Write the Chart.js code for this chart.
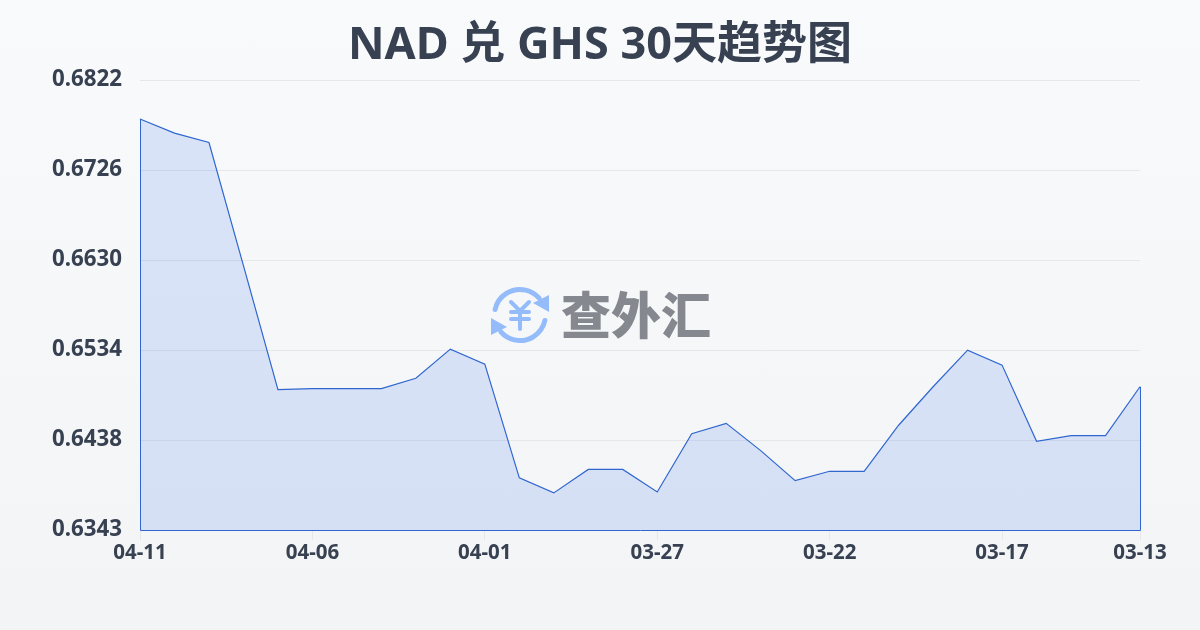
<!DOCTYPE html>
<html>
<head>
<meta charset="utf-8">
<script src="https://cdn.jsdelivr.net/npm/chart.js@4"></script>
<style>
  html, body { margin: 0; padding: 0; }
  body { width: 1200px; height: 630px; background: linear-gradient(180deg, #f8fafc, #f3f4f6); overflow: hidden; }
  canvas { display: block; }
</style>
</head>
<body>
<canvas id="myChart" width="1200" height="630"></canvas>
<script>
const dates = [
  '04-11', '04-10', '04-09', '04-08', '04-07', '04-06', '04-05', '04-04', '04-03', '04-02',
  '04-01', '03-31', '03-30', '03-29', '03-28', '03-27', '03-26', '03-25', '03-24', '03-23',
  '03-22', '03-21', '03-20', '03-19', '03-18', '03-17', '03-16', '03-15', '03-14', '03-13',
];
const rates = [
  0.6780, 0.6765, 0.6755, 0.6624, 0.6492, 0.6493, 0.6493, 0.6493, 0.6504, 0.6535,
  0.6519, 0.6398, 0.6382, 0.6407, 0.6407, 0.6383, 0.6445, 0.6456, 0.6427, 0.6395,
  0.6405, 0.6405, 0.6454, 0.6495, 0.6534, 0.6518, 0.6437, 0.6443, 0.6443, 0.6495,
];
const xTickLabels = ['04-11', '04-06', '04-01', '03-27', '03-22', '03-17', '03-13'];
const yTicks = [0.68215, 0.67256, 0.66298, 0.6534, 0.64382, 0.63425];
const yTickLabels = ['0.6822', '0.6726', '0.6630', '0.6534', '0.6438', '0.6343'];

const LATIN_CJK = "'Noto Sans', 'Noto Sans CJK SC', sans-serif";
const TEXT = '#374151';
const LINE = '#2f66cf';

// closes the area outline: down both ends and along the baseline
const areaEdges = {
  id: 'areaEdges',
  afterDatasetsDraw(chart) {
    const pts = chart.getDatasetMeta(0).data;
    const bottom = chart.scales.y.getPixelForValue(yTicks[yTicks.length - 1]) + 0.5;
    const first = pts[0];
    const last = pts[pts.length - 1];
    const c = chart.ctx;
    c.save();
    c.strokeStyle = LINE;
    c.lineWidth = 1;
    c.beginPath();
    c.moveTo(first.x + 0.5, first.y);
    c.lineTo(first.x + 0.5, bottom);
    c.lineTo(last.x + 0.5, bottom);
    c.lineTo(last.x + 0.5, last.y);
    c.stroke();
    c.restore();
  },
};

// site watermark in the middle of the plot
const watermark = {
  id: 'watermark',
  afterDraw(chart) {
    const c = chart.ctx;
    const blue = '#94bbfa';
    c.save();
    c.strokeStyle = blue;
    c.fillStyle = blue;
    c.lineWidth = 5;
    c.lineCap = 'round';
    c.lineJoin = 'round';
    c.beginPath();
    c.arc(520, 315, 25.5, Math.PI * 1.07, Math.PI * 1.77);
    c.stroke();
    c.beginPath();
    c.arc(520, 315, 25.5, Math.PI * 0.07, Math.PI * 0.77);
    c.stroke();
    c.beginPath();
    c.moveTo(549, 295); c.lineTo(549, 312); c.lineTo(533, 303);
    c.closePath(); c.fill();
    c.beginPath();
    c.moveTo(491, 335); c.lineTo(491, 318); c.lineTo(507, 327);
    c.closePath(); c.fill();
    c.lineWidth = 4;
    c.beginPath();
    c.moveTo(511, 302); c.lineTo(520, 311); c.lineTo(529, 302);
    c.moveTo(520, 311); c.lineTo(520, 329);
    c.moveTo(511, 312); c.lineTo(529, 312);
    c.moveTo(511, 319); c.lineTo(529, 319);
    c.stroke();
    c.fillStyle = '#85898f';
    c.font = "900 50px 'Noto Sans CJK SC'";
    c.textAlign = 'left';
    c.textBaseline = 'middle';
    c.fillText('查外汇', 561, 315);
    c.restore();
  },
};

const ctx = document.getElementById('myChart').getContext('2d');
const myChart = new Chart(ctx, {
  type: 'line',
  data: {
    labels: dates,
    datasets: [
      {
        data: rates,
        fill: 'start',
        tension: 0,
        borderWidth: 1.2,
        borderColor: LINE,
        backgroundColor: 'rgba(37, 99, 235, 0.14)',
        pointRadius: 0,
      },
    ],
  },
  plugins: [areaEdges, watermark],
  options: {
    responsive: false,
    animation: false,
    plugins: {
      legend: { display: false },
      tooltip: { enabled: false },
      title: {
        display: true,
        text: 'NAD 兑 GHS 30天趋势图',
        color: TEXT,
        font: { family: LATIN_CJK, size: 45, weight: 'bold', lineHeight: 1.2 },
        padding: { top: 19, bottom: 7 },
      },
    },
    scales: {
      x: {
        offset: false,
        border: { display: false },
        grid: { drawOnChartArea: false, tickLength: 10, color: '#e5e7eb' },
        ticks: {
          autoSkip: false,
          maxRotation: 0,
          padding: 1,
          color: TEXT,
          font: { family: LATIN_CJK, size: 20.5, weight: 'bold' },
        },
        afterBuildTicks(scale) {
          scale.ticks = scale.ticks.filter((t) => xTickLabels.includes(dates[t.value]));
        },
        afterFit(scale) {
          scale.height = 100;
          scale.paddingRight = 60; // keeps the title centred on the full canvas
        },
      },
      y: {
        min: yTicks[yTicks.length - 1],
        max: yTicks[0],
        border: { display: false },
        grid: { drawTicks: false, color: '#e5e7eb' },
        ticks: {
          padding: 18,
          labelOffset: -0.5,
          color: TEXT,
          font: { family: LATIN_CJK, size: 22.3, weight: 'bold' },
          callback: (value, i) => yTickLabels[i],
        },
        afterBuildTicks(scale) {
          scale.ticks = yTicks.map((value) => ({ value }));
        },
        afterFit(scale) {
          scale.width = 140;
        },
      },
    },
  },
});
</script>
</body>
</html>
